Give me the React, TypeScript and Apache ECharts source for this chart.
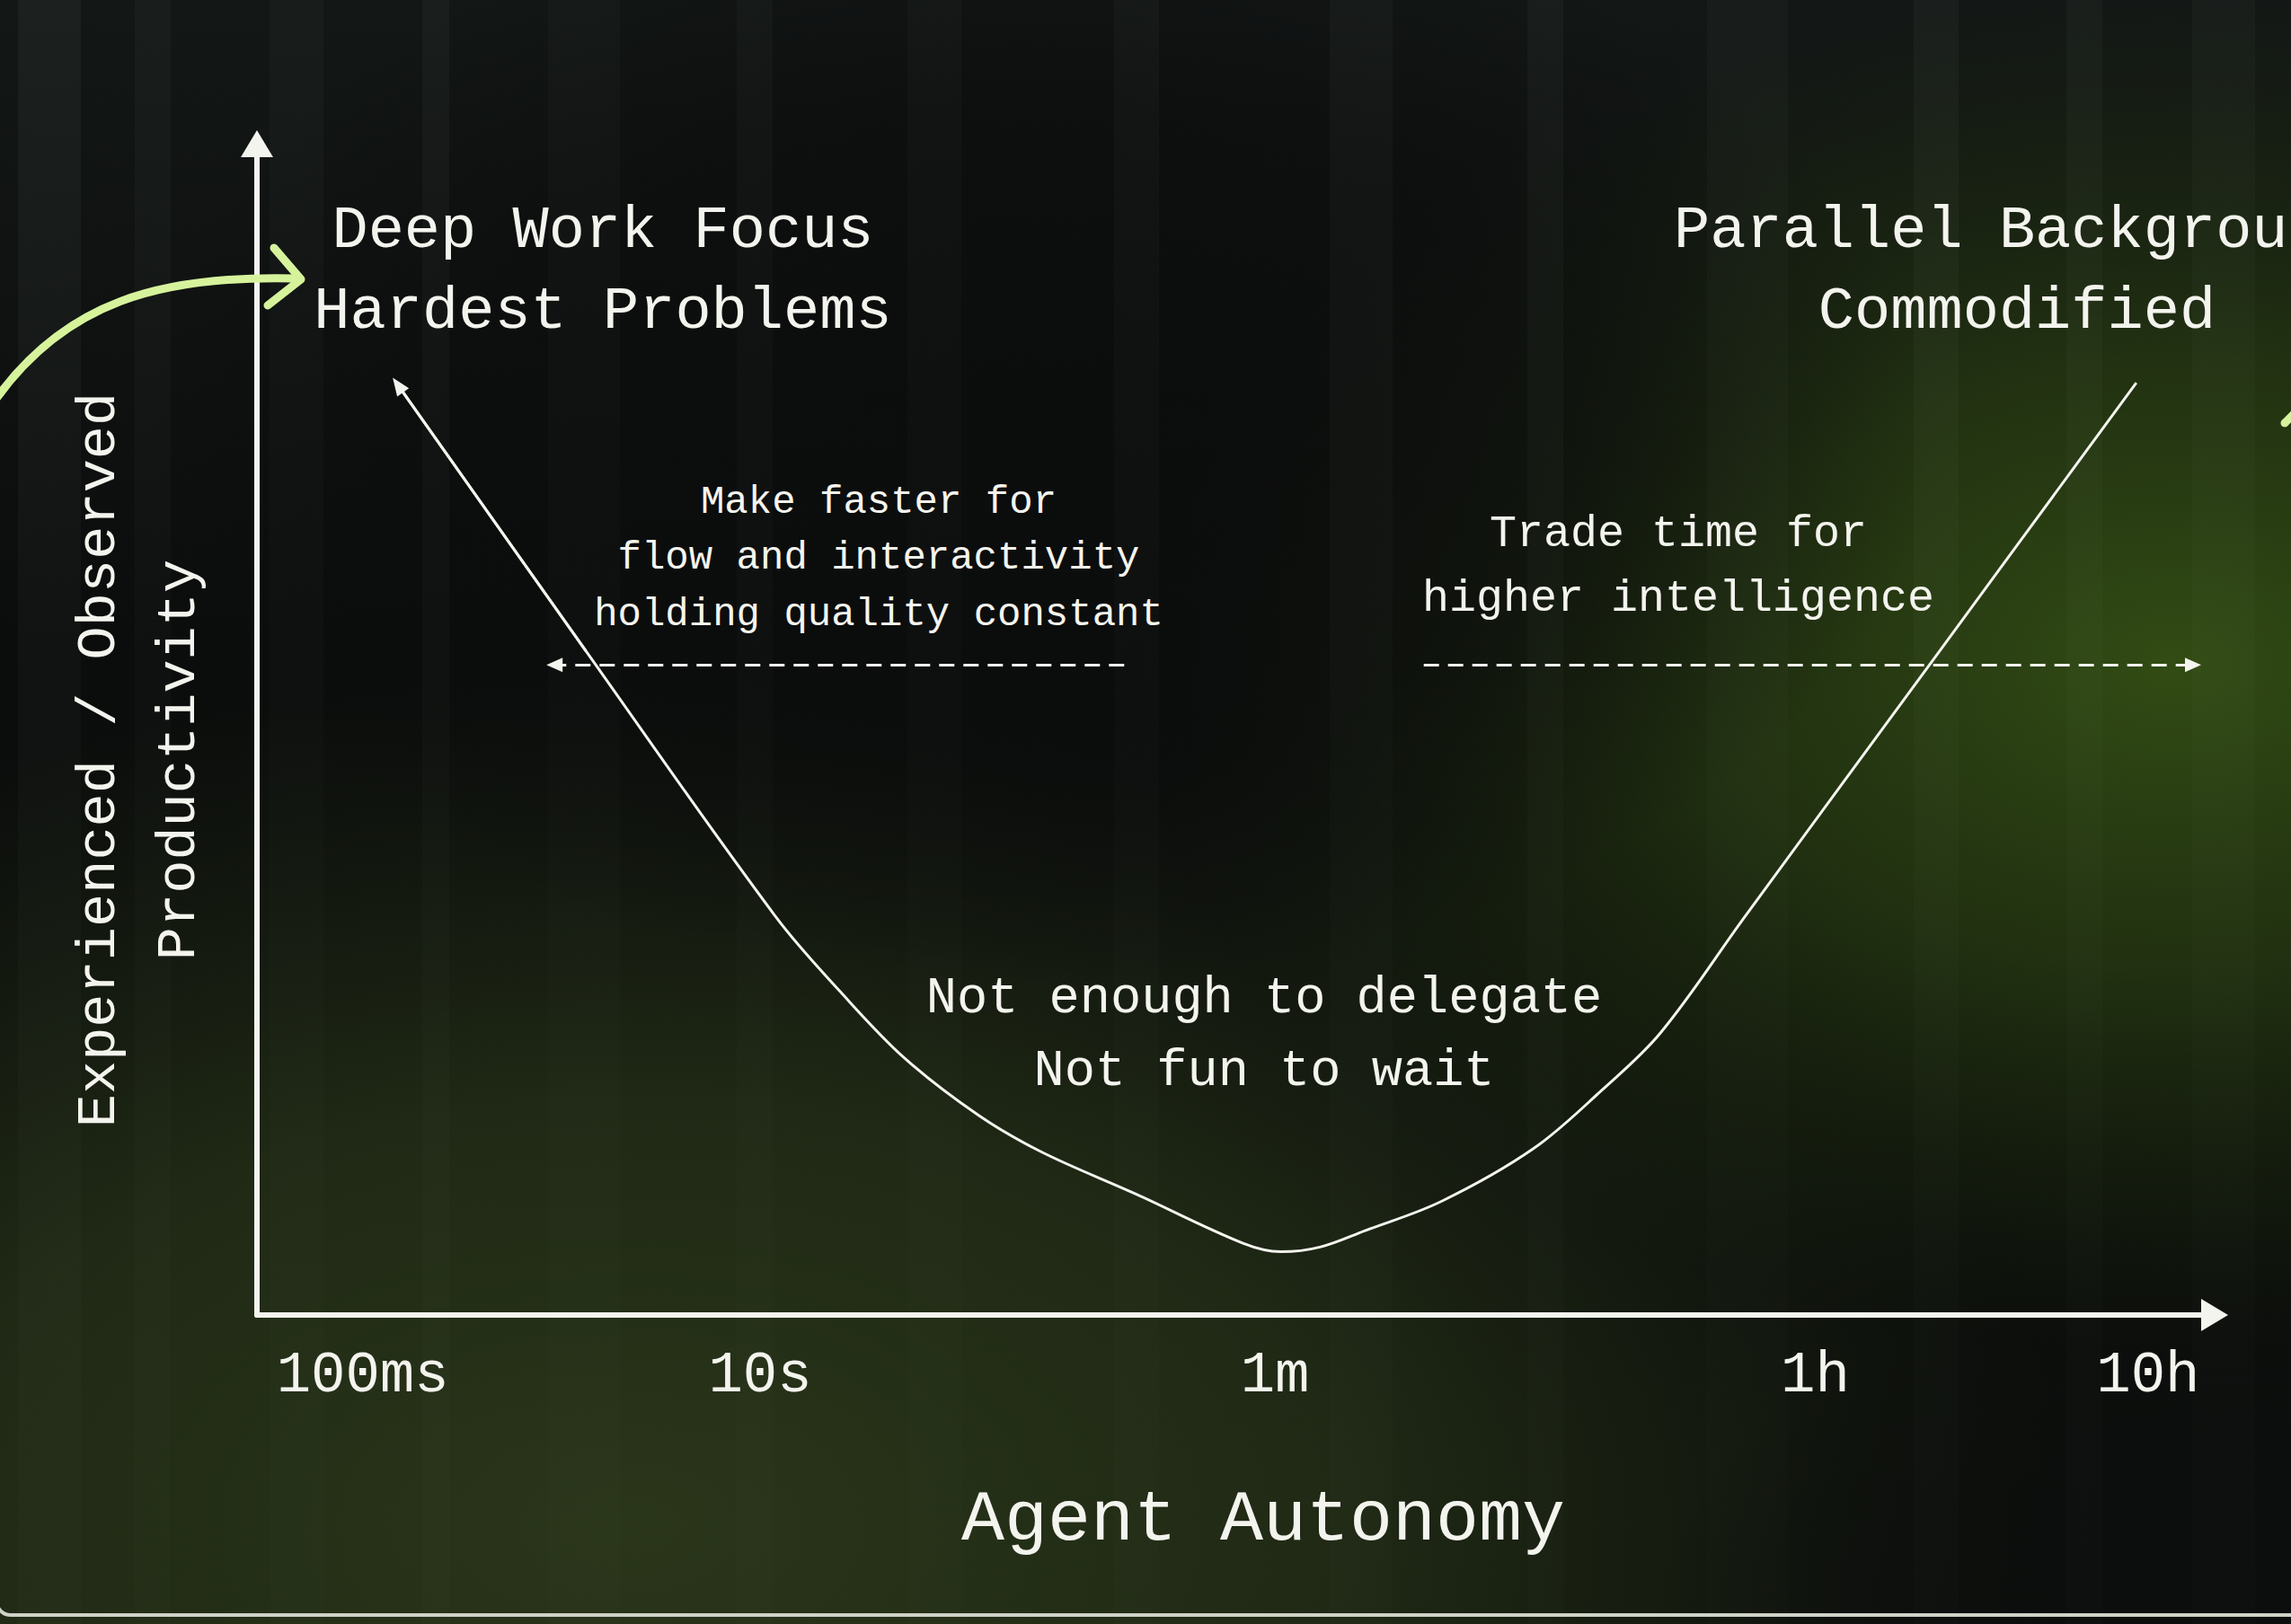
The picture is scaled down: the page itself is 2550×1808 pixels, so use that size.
import { useEffect, useRef } from "react"
import * as echarts from "echarts"

// x: position along "Agent Autonomy" (0-100), y: experienced productivity (0-100)
const TICK_LABELS = ["100ms", "10s", "1m", "1h", "10h"]
const TICK_POS = [5.4, 25.7, 52.0, 79.6, 96.6]

const CURVE_X = [
  7.2, 16.8, 26.5, 29.8, 33.1, 36.9, 40.1, 44.8, 50.4, 52.3, 54.3, 56.6, 60.5,
  65.2, 68.7, 71.7, 76.0, 86.0, 96.0,
]
const CURVE_Y = [
  79.4, 56.7, 34.0, 27.6, 21.9, 17.0, 13.9, 10.4, 6.1, 5.4, 5.8, 7.2, 9.7,
  14.2, 19.2, 24.1, 34.0, 56.8, 79.6,
]

// dashed arrows [from, to]
const FASTER_ARROW = [[44.3, 55.5], [15.2, 55.5]]
const SMARTER_ARROW = [[59.6, 55.5], [98.9, 55.5]]

const FONT = '"Liberation Mono", "DejaVu Sans Mono", monospace'
const INK = "#f4f4ee"
const LIME = "#d6f39c"

// background texture: vertical light streaks [x, width, alpha]
const STREAKS = [
  [20, 70, 0.05], [150, 40, 0.035], [300, 60, 0.03], [470, 30, 0.04],
  [610, 80, 0.025], [820, 40, 0.03], [1010, 60, 0.025], [1240, 50, 0.03],
  [1480, 70, 0.035], [1700, 40, 0.04], [1900, 90, 0.03], [2130, 50, 0.04],
  [2300, 40, 0.035], [2440, 70, 0.03],
]

function glow(cx: number, cy: number, rx: number, ry: number, stops: [number, string][]) {
  return {
    type: "circle",
    z: -50,
    silent: true,
    x: cx,
    y: cy,
    scaleX: rx / 1000,
    scaleY: ry / 1000,
    shape: { cx: 0, cy: 0, r: 1000 },
    style: {
      fill: new echarts.graphic.RadialGradient(
        0.5,
        0.5,
        0.5,
        stops.map(([offset, color]) => ({ offset, color }))
      ),
    },
  }
}

function label(text: string, x: number, y: number, fontSize: number, lineHeight: number, extra = {}) {
  return {
    type: "text",
    z: 50,
    silent: true,
    x,
    y,
    ...extra,
    style: {
      text,
      fill: INK,
      fontFamily: FONT,
      fontSize,
      lineHeight,
      align: "center",
      verticalAlign: "middle",
    },
  }
}

export default function App() {
  const hostRef = useRef<HTMLDivElement>(null)

  useEffect(() => {
    document.body.style.margin = "0"
    const el = hostRef.current
    if (!el) return
    const chart = echarts.init(el, undefined, { renderer: "svg" })

    const streaks = STREAKS.map(([x, w, a]) => ({
      type: "rect",
      z: -45,
      silent: true,
      shape: { x, y: 0, width: w, height: 1808 },
      style: {
        fill: new echarts.graphic.LinearGradient(0, 0, 0, 1, [
          { offset: 0, color: `rgba(200,215,200,${a})` },
          { offset: 0.5, color: `rgba(200,215,200,${a * 0.5})` },
          { offset: 1, color: `rgba(200,215,200,${a * 0.3})` },
        ]),
      },
    }))

    chart.setOption({
      animation: false,
      backgroundColor: "#0b0d0c",
      grid: { left: 286, right: 85, top: 160, bottom: 344 },
      xAxis: {
        type: "value",
        min: 0,
        max: 100,
        axisLine: {
          show: true,
          symbol: ["none", "triangle"],
          symbolSize: [36, 30],
          lineStyle: { color: INK, width: 6 },
        },
        axisTick: { show: false },
        splitLine: { show: false },
        axisLabel: {
          customValues: TICK_POS,
          formatter: (v: number) => {
            const i = TICK_POS.findIndex((p) => Math.abs(p - v) < 0.01)
            return i >= 0 ? TICK_LABELS[i] : ""
          },
          color: INK,
          fontFamily: FONT,
          fontSize: 64,
          margin: 36,
        },
      },
      yAxis: {
        type: "value",
        min: 0,
        max: 100,
        axisLine: {
          show: true,
          symbol: ["none", "triangle"],
          symbolSize: [36, 30],
          lineStyle: { color: INK, width: 6 },
        },
        axisTick: { show: false },
        axisLabel: { show: false },
        splitLine: { show: false },
      },
      graphic: [
        {
          type: "rect",
          z: -60,
          silent: true,
          shape: { x: 0, y: 0, width: 2550, height: 1808 },
          style: {
            fill: new echarts.graphic.LinearGradient(0, 0, 0, 1, [
              { offset: 0, color: "#131716" },
              { offset: 0.4, color: "#0b0d0c" },
              { offset: 1, color: "#0c0f0b" },
            ]),
          },
        },
        glow(700, 1700, 1600, 950, [
          [0, "rgba(44,56,27,0.95)"],
          [0.5, "rgba(38,50,24,0.75)"],
          [1, "rgba(30,40,20,0)"],
        ]),
        glow(2420, 740, 1150, 760, [
          [0, "rgba(50,76,20,1)"],
          [0.45, "rgba(40,60,18,0.75)"],
          [1, "rgba(30,45,15,0)"],
        ]),
        glow(2500, 1790, 650, 380, [
          [0, "rgba(12,14,13,1)"],
          [0.5, "rgba(12,14,13,0.8)"],
          [1, "rgba(12,14,13,0)"],
        ]),
        glow(1150, 480, 1000, 620, [
          [0, "rgba(11,12,12,0.9)"],
          [0.6, "rgba(11,12,12,0.6)"],
          [1, "rgba(11,12,12,0)"],
        ]),
        ...streaks,
        // frame edge at bottom
        {
          type: "rect",
          z: -40,
          silent: true,
          shape: { x: -4, y: -40, width: 2600, height: 1838, r: 16 },
          style: { fill: "none", stroke: "#cfd2c6", lineWidth: 4 },
        },
        // lime callout arrows
        {
          type: "bezierCurve",
          z: 40,
          silent: true,
          shape: { x1: -10, y1: 452, cpx1: 70, cpy1: 335, cpx2: 180, cpy2: 306, x2: 330, y2: 310 },
          style: { stroke: LIME, lineWidth: 9, fill: "none", lineCap: "round" },
        },
        {
          type: "polyline",
          z: 40,
          silent: true,
          shape: { points: [[305, 276], [335, 311], [298, 340]] },
          style: { stroke: LIME, lineWidth: 9, fill: "none", lineCap: "round", lineJoin: "round" },
        },
        {
          type: "line",
          z: 40,
          silent: true,
          shape: { x1: 2543, y1: 471, x2: 2556, y2: 458 },
          style: { stroke: LIME, lineWidth: 9, lineCap: "round" },
        },
        label("Deep Work Focus\nHardest Problems", 671, 302, 67, 90),
        label("Parallel Background\nCommodified", 2245, 302, 67, 90),
        label("Make faster for\nflow and interactivity\nholding quality constant", 978, 621, 44, 62.5),
        label("Trade time for\nhigher intelligence", 1868, 630, 50, 72),
        label("Not enough to delegate\nNot fun to wait", 1407, 1152, 57, 81),
        label("Agent Autonomy", 1406, 1692, 80, 80),
        label("Experienced / Observed\nProductivity", 155, 846, 62, 89, { rotation: Math.PI / 2 }),
      ],
      series: [
        {
          type: "line",
          data: CURVE_X.map((x, i) => [x, CURVE_Y[i]]),
          smooth: 0.35,
          showSymbol: false,
          silent: true,
          lineStyle: { color: INK, width: 3 },
          z: 5,
          markLine: {
            silent: true,
            animation: false,
            label: { show: false },
            symbolSize: [16, 18],
            lineStyle: { color: INK, width: 3, type: [17, 10] },
            data: [
              [
                { coord: FASTER_ARROW[0], symbol: "none" },
                { coord: FASTER_ARROW[1], symbol: "triangle" },
              ],
              [
                { coord: SMARTER_ARROW[0], symbol: "none" },
                { coord: SMARTER_ARROW[1], symbol: "triangle" },
              ],
              [
                { coord: [CURVE_X[1], CURVE_Y[1]], symbol: "none", lineStyle: { type: "solid" } },
                { coord: [CURVE_X[0], CURVE_Y[0]], symbol: "triangle", symbolSize: [16, 20] },
              ],
            ],
          },
        },
      ],
    })

    return () => chart.dispose()
  }, [])

  return (
    <div
      ref={hostRef}
      style={{ position: "absolute", left: 0, top: 0, width: 2550, height: 1808 }}
    />
  )
}
